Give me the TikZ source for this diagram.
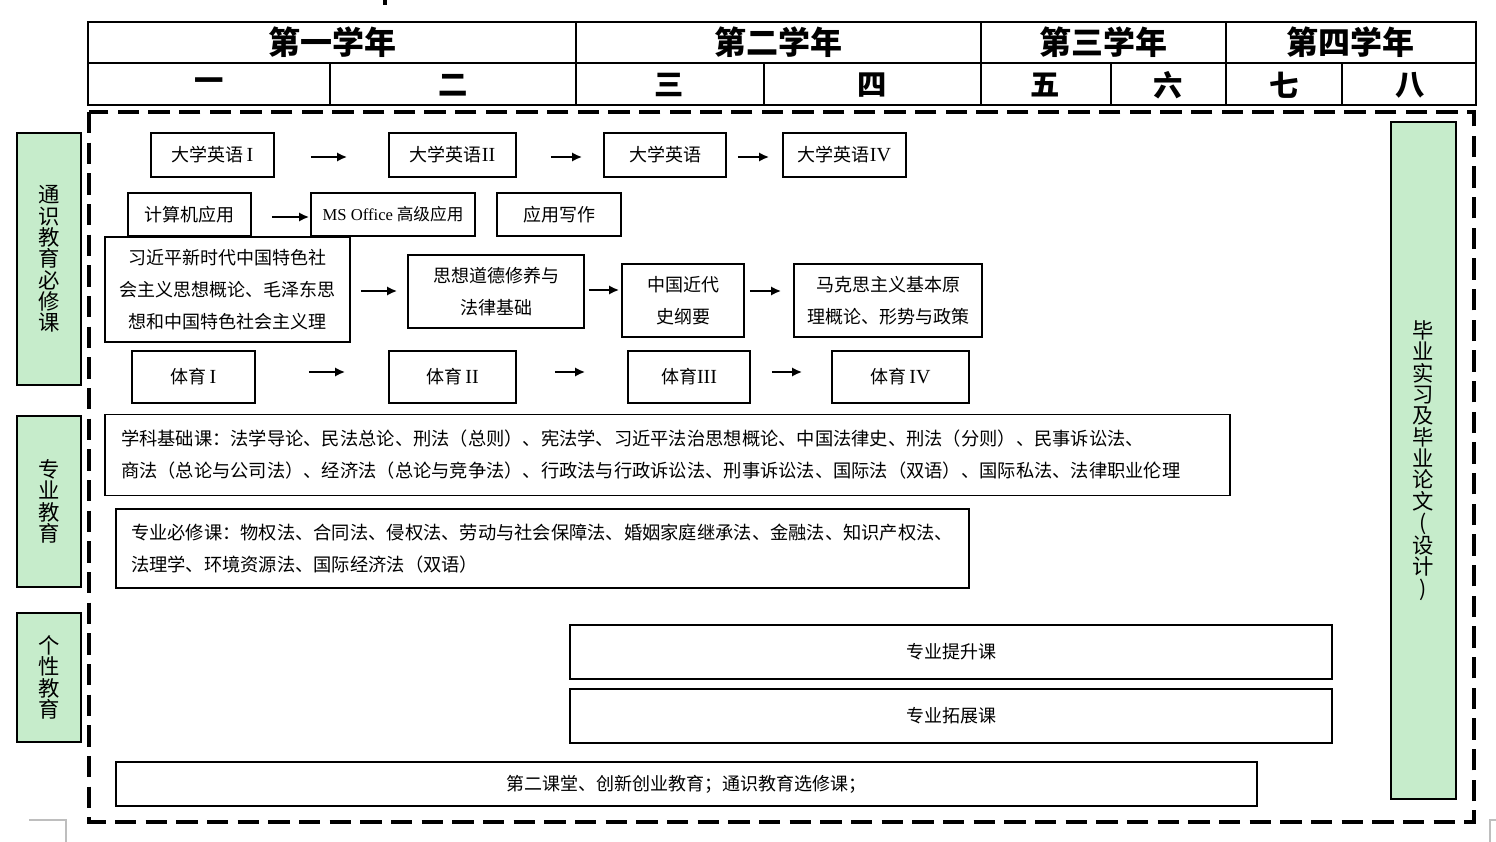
\documentclass[tikz,border=0pt]{standalone}
\usepackage{fontspec}
\setmainfont{Noto Sans CJK SC}
\newfontfamily\tms{Liberation Serif}
\usetikzlibrary{calc,arrows.meta}
\definecolor{lbl}{RGB}{198,236,203}
\definecolor{cropgray}{RGB}{190,190,190}
\newcommand{\rn}[1]{{\tms\fontsize{15}{15}\selectfont #1}}
\tikzset{
  boxst/.style={draw=black, line width=1.4pt, inner sep=0pt, align=center,
    font=\fontsize{13.5}{24}\selectfont},
  lblst/.style={draw=black, line width=1.4pt, fill=lbl, inner sep=0pt, align=center,
    font=\fontsize{16}{16}\selectfont},
  arr/.style={line width=1.8pt, -{Latex[length=7.5pt,width=7pt]}},
  hdr/.style={font=\bfseries\fontsize{24}{24}\selectfont, inner sep=0pt},
  sem/.style={font=\bfseries\fontsize{22}{22}\selectfont, inner sep=0pt},
  gridln/.style={line width=1.5pt},
  frame/.style={line width=2.6pt, dash pattern=on 16pt off 7pt},
  crop/.style={draw=cropgray, line width=1pt}
}
\newcommand{\mybox}[7]{%
  \node[#6, minimum width={(#3-#2)*0.75pt}, minimum height={(#5-#4)*0.75pt}]
    (#1) at ({(#2+#3)/2},{(#4+#5)/2}) {#7};}
\begin{document}
\begin{tikzpicture}[x=0.75pt,y=-0.75pt]
\useasboundingbox (0,0) rectangle (1496,842);
% top tick and crop marks
\fill (383,0) rectangle (387,5);
\draw[crop] (29,820) -- (66,820) -- (66,842);
\draw[crop] (1490,842) -- (1490,820) -- (1496,820);
% header table
\draw[gridln] (88,22) rectangle (1476,105);
\draw[gridln] (88,63) -- (1476,63);
\foreach \xx in {576,981,1226} \draw[gridln] (\xx,22) -- (\xx,105);
\foreach \xx in {330,764,1111,1342} \draw[gridln] (\xx,63) -- (\xx,105);
\node[hdr] (y1) at (332,42) {第一学年};
\node[hdr] (y2) at (778,42) {第二学年};
\node[hdr] (y3) at (1103,42) {第三学年};
\node[hdr] (y4) at (1350,42) {第四学年};
\node[sem] (s1) at (209,85) {一};
\node[sem] (s2) at (453,85) {二};
\node[sem] (s3) at (669,85) {三};
\node[sem] (s4) at (872,85) {四};
\node[sem] (s5) at (1045,85) {五};
\node[sem] (s6) at (1168,85) {六};
\node[sem] (s7) at (1284,85) {七};
\node[sem] (s8) at (1410,85) {八};
% dashed frame
\draw[frame] (89,112) rectangle (1474,822);
% side labels
\mybox{l1}{17}{81}{133}{385}{lblst}{通\\识\\教\\育\\必\\修\\课}
\mybox{l2}{17}{81}{416}{587}{lblst}{专\\业\\教\\育}
\mybox{l3}{17}{81}{613}{742}{lblst}{个\\性\\教\\育}
\mybox{r1}{1391}{1456}{122}{799}{lblst}{毕\\业\\实\\习\\及\\毕\\业\\论\\文\\(\\设\\计\\)}
% row 1
\mybox{e1}{151}{274}{133}{177}{boxst}{大学英语\,\rn{I}}
\mybox{e2}{389}{516}{133}{177}{boxst}{大学英语\rn{II}}
\mybox{e3}{604}{726}{133}{177}{boxst}{大学英语}
\mybox{e4}{783}{906}{133}{177}{boxst}{大学英语\rn{IV}}
% row 2
\mybox{c1}{128}{251}{193}{236}{boxst}{计算机应用}
\mybox{c2}{311}{475}{193}{236}{boxst}{\fontsize{12.5}{12.5}\selectfont{\tms MS Office} 高级应用}
\mybox{c3}{497}{621}{193}{236}{boxst}{应用写作}
% row 3
\mybox{x1}{105}{350}{237}{342}{boxst}{习近平新时代中国特色社\\会主义思想概论、毛泽东思\\想和中国特色社会主义理}
\mybox{x2}{408}{584}{255}{328}{boxst}{思想道德修养与\\法律基础}
\mybox{x3}{622}{744}{264}{337}{boxst}{中国近代\\史纲要}
\mybox{x4}{794}{982}{264}{337}{boxst}{马克思主义基本原\\理概论、形势与政策}
% row 4
\mybox{p1}{132}{255}{351}{403}{boxst}{体育\,\rn{I}}
\mybox{p2}{389}{516}{351}{403}{boxst}{体育\,\rn{II}}
\mybox{p3}{628}{750}{351}{403}{boxst}{体育\rn{III}}
\mybox{p4}{832}{969}{351}{403}{boxst}{体育\,\rn{IV}}
% wide boxes
\node[boxst, align=left, font=\fontsize{13.7}{24}\selectfont,
  text width={(1230-105-32)*0.75pt}, inner xsep={16*0.75pt},
  minimum height={(497-416)*0.75pt}] (xk) at ({(105+1230)/2},455)
  {学科基础课：法学导论、民法总论、刑法（总则）、宪法学、习近平法治思想概论、中国法律史、刑法（分则）、民事诉讼法、\\商法（总论与公司法）、经济法（总论与竞争法）、行政法与行政诉讼法、刑事诉讼法、国际法（双语）、国际私法、法律职业伦理};
\node[boxst, align=left, font=\fontsize{13.7}{24}\selectfont,
  text width={(969-116-30)*0.75pt}, inner xsep={15*0.75pt},
  minimum height={(588-509)*0.75pt}] (zy) at ({(116+969)/2},548.5)
  {专业必修课：物权法、合同法、侵权法、劳动与社会保障法、婚姻家庭继承法、金融法、知识产权法、\\法理学、环境资源法、国际经济法（双语）};
\mybox{t1}{570}{1332}{625}{679}{boxst}{专业提升课}
\mybox{t2}{570}{1332}{689}{743}{boxst}{专业拓展课}
\mybox{t3}{116}{1257}{762}{806}{boxst}{第二课堂、创新创业教育；通识教育选修课；}
% arrows
\draw[arr] ($(e1.east)+(36,2)$) -- ($(e2.west)+(-41,2)$);
\draw[arr] ($(e2.east)+(34,2)$) -- ($(e3.west)+(-21,2)$);
\draw[arr] ($(e3.east)+(11,2)$) -- ($(e4.west)+(-13,2)$);
\draw[arr] ($(c1.east)+(20,2.5)$) -- ($(c2.west)+(-1,2.5)$);
\draw[arr] ($(x1.east)+(10,1.5)$) -- ($(x2.west)+(-10,-0.5)$);
\draw[arr] ($(x2.east)+(4,-1.5)$) -- ($(x3.west)+(-2,-10.5)$);
\draw[arr] ($(x3.east)+(5,-9.5)$) -- ($(x4.west)+(-12,-9.5)$);
\draw[arr] ($(p1.east)+(53,-5)$) -- ($(p2.west)+(-43,-5)$);
\draw[arr] ($(p2.east)+(38,-5)$) -- ($(p3.west)+(-42,-5)$);
\draw[arr] ($(p3.east)+(21,-5)$) -- ($(p4.west)+(-29,-5)$);
\end{tikzpicture}
\end{document}
